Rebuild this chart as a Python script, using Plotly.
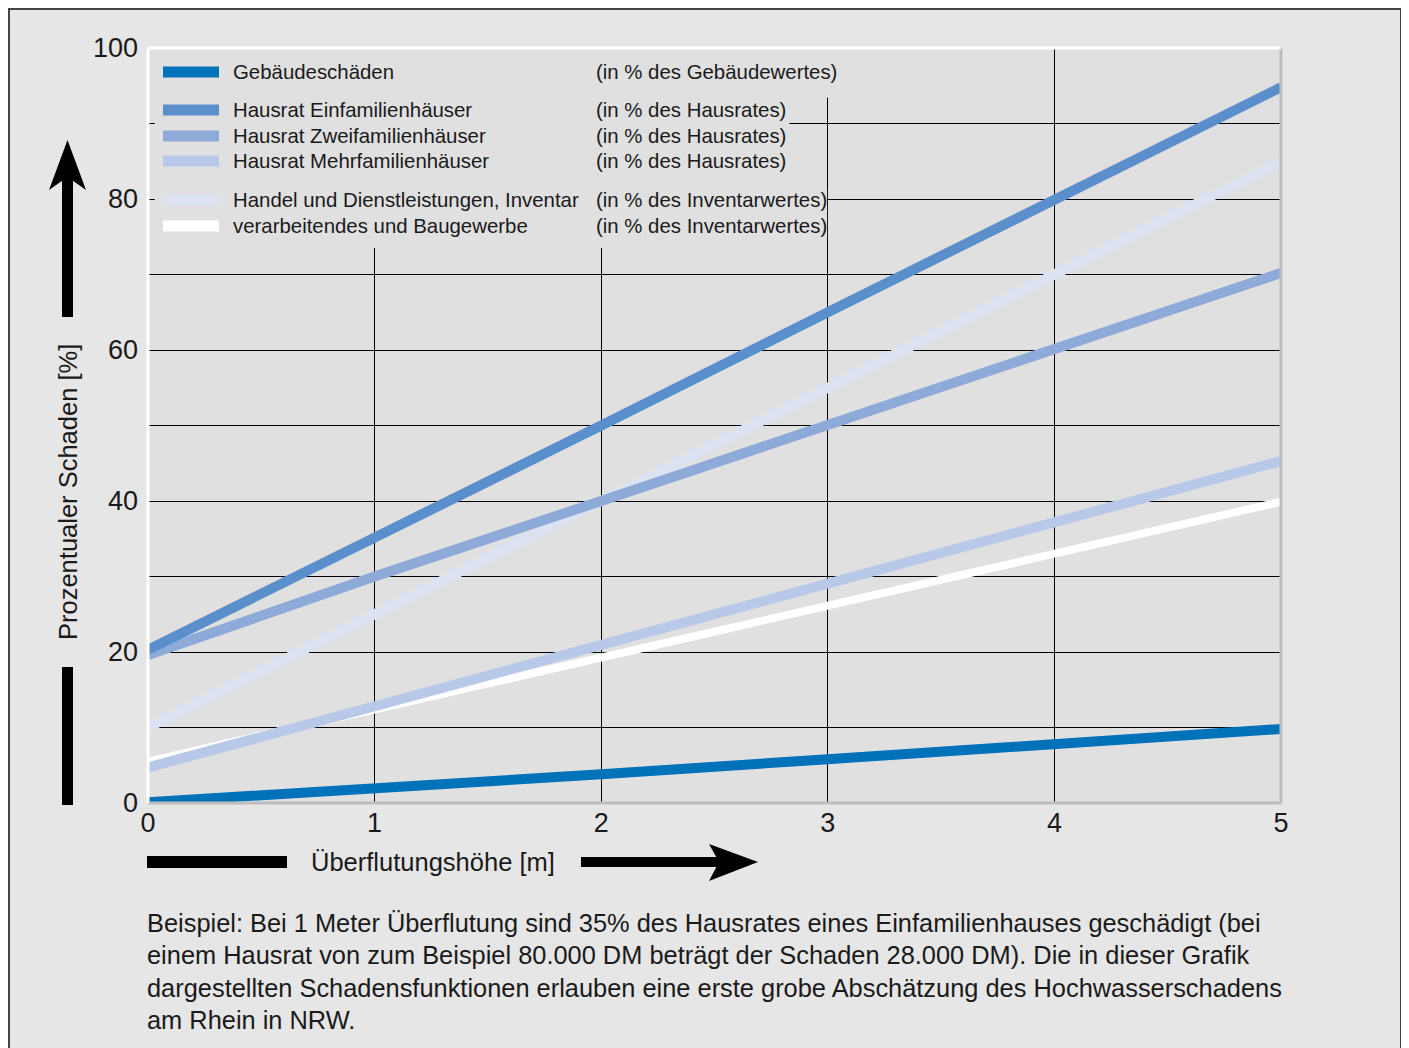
import plotly.graph_objects as go

# ---------------- data ----------------
x_m = [0, 1, 2, 3, 4, 5]
gebaeude = [0.1, 1.8, 3.8, 5.8, 7.8, 9.8]
hausrat_efh = [20.3, 35, 50, 65, 80, 94.8]
hausrat_zfh = [19.6, 30, 40, 50, 60, 70.2]
hausrat_mfh = [4.7, 12.8, 20.9, 29.0, 37.2, 45.3]
handel = [10, 25, 40, 55, 70, 85]
gewerbe = [5.5, 12.4, 19.3, 26.2, 33.0, 39.9]

series_names = ["Gebäudeschäden", "Hausrat Einfamilienhäuser", "Hausrat Zweifamilienhäuser",
                "Hausrat Mehrfamilienhäuser", "Handel und Dienstleistungen, Inventar",
                "verarbeitendes und Baugewerbe"]
series_units = ["(in % des Gebäudewertes)", "(in % des Hausrates)", "(in % des Hausrates)",
                "(in % des Hausrates)", "(in % des Inventarwertes)", "(in % des Inventarwertes)"]
series_values = [gebaeude, hausrat_efh, hausrat_zfh, hausrat_mfh, handel, gewerbe]
series_colors = ["#0072ba", "#5b8fcb", "#8eaad9", "#b8c8e8", "#dde2f2", "#ffffff"]
series_widths = [10, 10, 10, 10, 10, 8]

y_ticks = [0, 20, 40, 60, 80, 100]
x_ticks = [0, 1, 2, 3, 4, 5]

x_title = "Überflutungshöhe [m]"
y_title = "Prozentualer Schaden [%]"
note_lines = [
    "Beispiel: Bei 1 Meter Überflutung sind 35% des Hausrates eines Einfamilienhauses geschädigt (bei",
    "einem Hausrat von zum Beispiel 80.000 DM beträgt der Schaden 28.000 DM). Die in dieser Grafik",
    "dargestellten Schadensfunktionen erlauben eine erste grobe Abschätzung des Hochwasserschadens",
    "am Rhein in NRW.",
]

# ---------------- layout geometry (page pixel coords; page has 8px body margin) ----------------
OFF = 8
W, H = 1409 - OFF, 1048 - OFF
L, R, T, B = 148, 1281, 48, 803          # plot area in page coords
PW, PH = R - L, B - T
FONT = "Liberation Sans"
PLOT_BG = "#e0e0e0"
PAPER_BG = "#e6e6e6"
TXT = "#1a1a1a"


def xp(px):
    return (px - L) / PW


def yp(py):
    return (B - py) / PH


fig = go.Figure()

# draw order: white first, then lighter to darker, Gebäude last
order = [5, 4, 3, 2, 1, 0]
for i in order:
    fig.add_trace(go.Scatter(
        x=x_m, y=series_values[i], mode="lines", name=series_names[i],
        line=dict(color=series_colors[i], width=series_widths[i]),
        showlegend=False, hoverinfo="skip", cliponaxis=True))

shapes = []
annotations = []

# masks hiding gridlines behind legend block (between grid and traces)
masks = [
    (0.03, 2.83, 73.5, 100.5),
    (2.83, 3.06, 93.4, 100.5),
    (2.83, 2.997, 74.6, 81.5),
]
for x0, x1, y0, y1 in masks:
    shapes.append(dict(type="rect", xref="x", yref="y", x0=x0, x1=x1, y0=y0, y1=y1,
                       fillcolor=PLOT_BG, line=dict(width=0), layer="between"))

# plot border: white top/left, gray bottom/right
shapes += [
    dict(type="line", xref="paper", yref="paper", x0=0, x1=1, y0=0, y1=0,
         line=dict(color="#bdbdbd", width=3), layer="above"),
    dict(type="line", xref="paper", yref="paper", x0=1, x1=1, y0=0, y1=1,
         line=dict(color="#bdbdbd", width=3), layer="above"),
    dict(type="line", xref="paper", yref="paper", x0=0, x1=1, y0=1, y1=1,
         line=dict(color="#ffffff", width=3), layer="above"),
    dict(type="line", xref="paper", yref="paper", x0=0, x1=0, y0=0, y1=1,
         line=dict(color="#ffffff", width=3), layer="above"),
]

# outer frame line
shapes += [
    dict(type="rect", xref="paper", yref="paper", x0=xp(9), x1=xp(1401), y0=yp(9), y1=yp(1060),
         fillcolor="rgba(0,0,0,0)", line=dict(color="#444444", width=2), layer="above"),
]

# y arrow (up) and lower bar
shapes += [
    dict(type="rect", xref="paper", yref="paper", x0=xp(62), x1=xp(73), y0=yp(317), y1=yp(176),
         fillcolor="#000000", line=dict(width=0)),
    dict(type="path", xref="paper", yref="paper",
         path=f"M {xp(67.5)} {yp(140)} L {xp(86)} {yp(190)} L {xp(67.5)} {yp(177)} L {xp(49)} {yp(190)} Z",
         fillcolor="#000000", line=dict(width=0)),
    dict(type="rect", xref="paper", yref="paper", x0=xp(62), x1=xp(73), y0=yp(805), y1=yp(667),
         fillcolor="#000000", line=dict(width=0)),
]
# x arrow
shapes += [
    dict(type="rect", xref="paper", yref="paper", x0=xp(147), x1=xp(287), y0=yp(868), y1=yp(856),
         fillcolor="#000000", line=dict(width=0)),
    dict(type="rect", xref="paper", yref="paper", x0=xp(581), x1=xp(720), y0=yp(867), y1=yp(857),
         fillcolor="#000000", line=dict(width=0)),
    dict(type="path", xref="paper", yref="paper",
         path=f"M {xp(758)} {yp(862)} L {xp(709)} {yp(844)} L {xp(719)} {yp(862)} L {xp(709)} {yp(881)} Z",
         fillcolor="#000000", line=dict(width=0)),
]

# legend (custom block)
legend_rows_y = [72, 110, 136, 161, 200, 226]
for name, unit, col, ry in zip(series_names, series_units, series_colors, legend_rows_y):
    shapes.append(dict(type="rect", xref="paper", yref="paper", x0=xp(163), x1=xp(219),
                       y0=yp(ry + 5.5), y1=yp(ry - 5.5), fillcolor=col, line=dict(width=0),
                       layer="above"))
    annotations.append(dict(x=xp(231), y=yp(ry), xref="paper", yref="paper", text=name,
                            showarrow=False, xanchor="left", yanchor="middle",
                            font=dict(family=FONT, size=20.4, color=TXT)))
    annotations.append(dict(x=xp(594), y=yp(ry), xref="paper", yref="paper", text=unit,
                            showarrow=False, xanchor="left", yanchor="middle",
                            font=dict(family=FONT, size=20.4, color=TXT)))

# axis titles
annotations.append(dict(x=xp(433), y=yp(862), xref="paper", yref="paper", text=x_title,
                        showarrow=False, xanchor="center", yanchor="middle",
                        font=dict(family=FONT, size=25.5, color=TXT)))
annotations.append(dict(x=xp(68), y=yp(492), xref="paper", yref="paper", text=y_title,
                        showarrow=False, xanchor="center", yanchor="middle", textangle=-90,
                        font=dict(family=FONT, size=25.5, color=TXT)))

# note text
for k, line in enumerate(note_lines):
    annotations.append(dict(x=xp(145), y=yp(923 + k * 32.3), xref="paper", yref="paper",
                            text=line, showarrow=False, xanchor="left", yanchor="middle",
                            font=dict(family=FONT, size=25.4, color=TXT)))

fig.update_layout(
    width=W, height=H, autosize=False,
    margin=dict(l=L - OFF, r=W - (R - OFF), t=T - OFF, b=H - (B - OFF), pad=0),
    paper_bgcolor=PAPER_BG, plot_bgcolor=PLOT_BG,
    showlegend=False,
    shapes=shapes, annotations=annotations,
    xaxis=dict(range=[0, 5], tickvals=x_ticks, ticktext=[str(v) for v in x_ticks],
               showgrid=True, gridcolor="#000000", gridwidth=1, zeroline=False,
               showline=False, ticks="", ticklabelstandoff=1,
               tickfont=dict(family=FONT, size=27, color=TXT), fixedrange=True),
    yaxis=dict(range=[0, 100], tickvals=y_ticks, ticktext=[str(v) for v in y_ticks],
               showgrid=True, gridcolor="#000000", gridwidth=1, zeroline=False,
               minor=dict(dtick=10, showgrid=True, gridcolor="#000000", gridwidth=1),
               showline=False, ticks="", ticklabelstandoff=9,
               tickfont=dict(family=FONT, size=27, color=TXT), fixedrange=True),
)

fig.write_html("out.html")
